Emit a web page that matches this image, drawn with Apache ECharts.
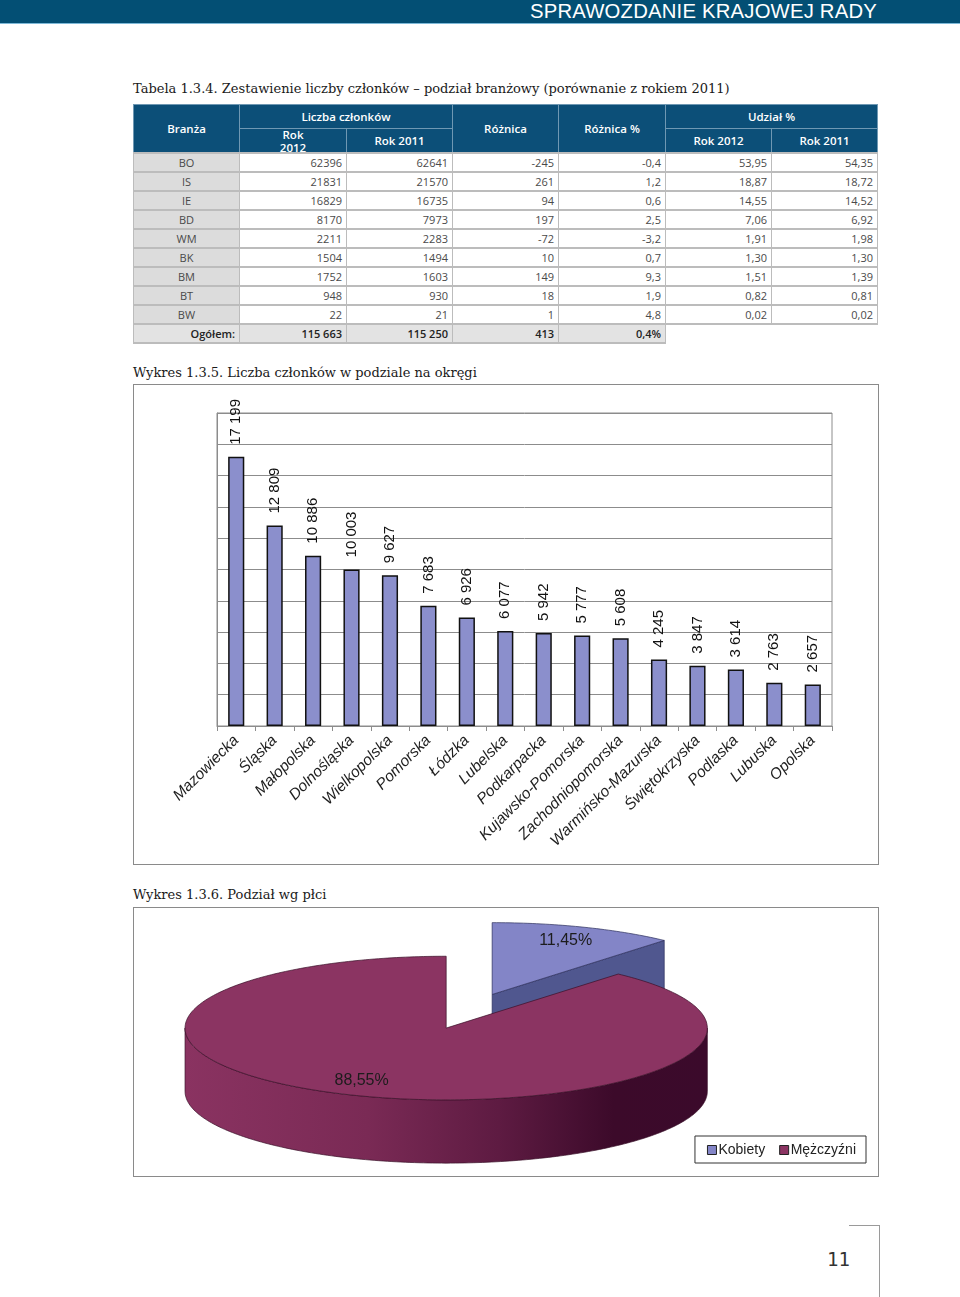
<!DOCTYPE html>
<html>
<head>
<meta charset="utf-8">
<script src="https://cdn.jsdelivr.net/npm/echarts@6/dist/echarts.min.js"></script>
<style>
  html, body { margin: 0; padding: 0; background: #fff; }
  body { width: 960px; height: 1297px; position: relative; overflow: hidden; }
  .abs { position: absolute; }
  #hdr { left: 0; top: 0; width: 960px; height: 23px; background: #034f74; border-bottom: 1px solid #7db9d8; }
  #hdrText { right: 83px; top: 0px; font: 20.3px "Liberation Sans", Arial, sans-serif; color: #fff; line-height: 22px; letter-spacing: 0.2px; }
  .cap { font-family: "DejaVu Serif", serif; font-size: 13px; color: #1a1a1a; line-height: 16px; white-space: nowrap; }
  #tbl { left: 133px; top: 104px; border-collapse: collapse; table-layout: fixed; font-family: "Open Sans", "Noto Sans", sans-serif; }
  #tbl th { background: #0c4f78; color: #fff; font-weight: 600; font-size: 11.5px; border: 1px solid #6f98b3; padding: 0; height: 23px; text-align: center; vertical-align: middle; overflow: visible; }
  #tbl td { border: 1px solid #bcbcbc; border-width: 2px 1px; font-size: 11px; color: #4a4a4a; padding: 0 4px 0 0; height: 17px; line-height: 17px; text-align: right; background: #fff; }
  #tbl td.k { background: #dcdcdc; text-align: center; padding: 0; }
  #tbl tr.tot td { background: #e3e3e3; font-weight: 600; color: #222; }
  #tbl tr.tot td.k { text-align: right; padding-right: 4px; }
  #tbl tr.tot td.none { background: #fff; border: none; }
  .box { border: 1px solid #8a8a8a; box-sizing: border-box; }
  #bar { left: 133px; top: 384px; width: 746px; height: 481px; }
  #pie { left: 133px; top: 907px; width: 746px; height: 270px; }
  #pg { left: 827px; top: 1248px; font: 19px "DejaVu Sans Mono", monospace; color: #333; }
  #vline { left: 879px; top: 1225px; width: 1px; height: 72px; background: #9a9a9a; }
  #hline { left: 849px; top: 1225px; width: 31px; height: 1px; background: #9a9a9a; }
</style>
</head>
<body>
<div id="hdr" class="abs"></div>
<div id="hdrText" class="abs">SPRAWOZDANIE KRAJOWEJ RADY</div>

<div class="abs cap" style="left:133px; top:81px;">Tabela 1.3.4. Zestawienie liczby członków – podział branżowy (porównanie z rokiem 2011)</div>
<table id="tbl" class="abs"></table>

<div class="abs cap" style="left:133px; top:365px;">Wykres 1.3.5. Liczba członków w podziale na okręgi</div>
<div id="bar" class="abs box"></div>

<div class="abs cap" style="left:133px; top:887px;">Wykres 1.3.6. Podział wg płci</div>
<div id="pie" class="abs box"></div>

<div id="pg" class="abs">11</div>
<div id="vline" class="abs"></div>
<div id="hline" class="abs"></div>

<script>
// ---------- Table data ----------
const branze      = ['BO','IS','IE','BD','WM','BK','BM','BT','BW'];
const rok2012     = [62396, 21831, 16829, 8170, 2211, 1504, 1752, 948, 22];
const rok2011     = [62641, 21570, 16735, 7973, 2283, 1494, 1603, 930, 21];
const roznica     = [-245, 261, 94, 197, -72, 10, 149, 18, 1];
const roznicaPct  = [-0.4, 1.2, 0.6, 2.5, -3.2, 0.7, 9.3, 1.9, 4.8];
const udzial2012  = [53.95, 18.87, 14.55, 7.06, 1.91, 1.30, 1.51, 0.82, 0.02];
const udzial2011  = [54.35, 18.72, 14.52, 6.92, 1.98, 1.30, 1.39, 0.81, 0.02];
const totalLabel  = 'Ogółem:';
const total2012   = 115663;
const total2011   = 115250;
const totalRoz    = 413;
const totalRozPct = 0.4;

// ---------- Bar chart data ----------
const okregi = ['Mazowiecka','Śląska','Małopolska','Dolnośląska','Wielkopolska','Pomorska','Łódzka','Lubelska','Podkarpacka','Kujawsko-Pomorska','Zachodniopomorska','Warmińsko-Mazurska','Świętokrzyska','Podlaska','Lubuska','Opolska'];
const czlonkowie = [17199, 12809, 10886, 10003, 9627, 7683, 6926, 6077, 5942, 5777, 5608, 4245, 3847, 3614, 2763, 2657];

// ---------- Pie data ----------
const plecNames  = ['Kobiety', 'Mężczyźni'];
const plecValues = [11.45, 88.55];

// ---------- Build table ----------
function fmtDec(v, d) { return v.toFixed(d).replace('.', ','); }
function fmtThousands(v) { return String(v).replace(/\B(?=(\d{3})+(?!\d))/g, ' '); }
(function buildTable() {
  const t = document.getElementById('tbl');
  const widths = [106, 107, 106, 106, 107, 106, 106];
  let html = '<colgroup>' + widths.map(w => '<col style="width:' + w + 'px">').join('') + '</colgroup>';
  html += '<tr><th rowspan="2">Branża</th><th colspan="2">Liczba członków</th><th rowspan="2">Różnica</th><th rowspan="2">Różnica %</th><th colspan="2">Udział %</th></tr>';
  html += '<tr><th><div style="height:23px;line-height:13px;margin-top:-3px;">Rok<br>2012</div></th><th>Rok 2011</th><th>Rok 2012</th><th>Rok 2011</th></tr>';
  for (let i = 0; i < branze.length; i++) {
    html += '<tr><td class="k">' + branze[i] + '</td><td>' + rok2012[i] + '</td><td>' + rok2011[i] + '</td><td>' + roznica[i] +
      '</td><td>' + fmtDec(roznicaPct[i], 1) + '</td><td>' + fmtDec(udzial2012[i], 2) + '</td><td>' + fmtDec(udzial2011[i], 2) + '</td></tr>';
  }
  html += '<tr class="tot"><td class="k">' + totalLabel + '</td><td>' + fmtThousands(total2012) + '</td><td>' + fmtThousands(total2011) +
    '</td><td>' + totalRoz + '</td><td>' + fmtDec(totalRozPct, 1) + '%</td><td class="none"></td><td class="none"></td></tr>';
  t.innerHTML = html;
})();

// ---------- Bar chart ----------
const barChart = echarts.init(document.getElementById('bar'), null, { renderer: 'canvas' });
barChart.setOption({
  animation: false,
  grid: { left: 83, right: 46, top: 28, bottom: 138, show: true, borderColor: '#8c8c8c', borderWidth: 1, backgroundColor: 'transparent' },
  xAxis: {
    type: 'category',
    data: okregi,
    axisLine: { lineStyle: { color: '#8c8c8c', width: 1 } },
    axisTick: { show: true, length: 5, lineStyle: { color: '#8c8c8c' } },
    axisLabel: { interval: 0, rotate: 45, margin: 12, fontStyle: 'italic', fontSize: 15.5, fontFamily: '"Liberation Sans", Arial, sans-serif', color: '#1e1e1e' }
  },
  yAxis: {
    type: 'value', min: 0, max: 20000, interval: 2000,
    axisLabel: { show: false },
    axisTick: { show: false },
    axisLine: { show: true, lineStyle: { color: '#8c8c8c' } },
    splitLine: { lineStyle: { color: '#8c8c8c', width: 1 } }
  },
  series: [{
    type: 'bar',
    data: czlonkowie,
    barWidth: '42%',
    itemStyle: { color: '#8b8fcc', borderColor: '#111', borderWidth: 1.5 },
    label: {
      show: true, position: 'top', rotate: 90, distance: 12, align: 'left', verticalAlign: 'middle',
      fontSize: 15, fontFamily: '"Liberation Sans", Arial, sans-serif', color: '#111',
      formatter: p => fmtThousands(p.value)
    }
  }]
});

// ---------- 3D pie chart (custom series) ----------
const explodeFactor = [0.5, 0];
const pieTopColors  = ['#8385c7', '#8b3462'];
function pieRenderer(sliceIdx) {
  return function (params, api) {
    const W = api.getWidth(), H = api.getHeight();
    const cx0 = W * 0.4196, cy0 = H * 0.448;
    const a = W * 0.351, b = a * 0.275, depth = H * 0.236;
    const total = plecValues.reduce((s, v) => s + v, 0);
    let start = 0;
    for (let i = 0; i < sliceIdx; i++) start += plecValues[i];
    const val = api.value(0);
    const t0 = start / total * 360, t1 = (start + val) / total * 360;
    const rad = d => d * Math.PI / 180;
    const mid = (t0 + t1) / 2;
    const ex = explodeFactor[sliceIdx];
    const cx = cx0 + a * ex * Math.sin(rad(mid));
    const cy = cy0 - b * ex * Math.cos(rad(mid));
    const P = (t, dz) => [cx + a * Math.sin(rad(t)), cy - b * Math.cos(rad(t)) + (dz || 0)];
    const arc = (s, e, dz) => { const pts = []; const n = Math.max(2, Math.ceil(Math.abs(e - s))); for (let k = 0; k <= n; k++) pts.push(P(s + (e - s) * k / n, dz)); return pts; };
    const children = [];
    const isWomen = sliceIdx === 0;
    const stroke = isWomen ? '#2c2f5c' : '#3a1028';
    const sideColor = isWomen ? '#50578f' : '#5a1d40';
    if (Math.sin(rad(t1)) > 1e-6) {
      children.push({ type: 'polygon', shape: { points: [[cx, cy], P(t1), P(t1, depth), [cx, cy + depth]] }, style: { fill: sideColor, stroke: stroke, lineWidth: 0.7 } });
    }
    if (Math.sin(rad(t0)) < -1e-6) {
      children.push({ type: 'polygon', shape: { points: [[cx, cy], P(t0), P(t0, depth), [cx, cy + depth]] }, style: { fill: sideColor, stroke: stroke, lineWidth: 0.7 } });
    }
    const s = Math.max(t0, 90), e = Math.min(t1, 270);
    if (e > s) {
      const pts = arc(s, e, 0).concat(arc(e, s, depth));
      const fill = isWomen ? sideColor : new echarts.graphic.LinearGradient(0, 0, 1, 0, [
        { offset: 0, color: '#8a3361' }, { offset: 0.35, color: '#7a2a55' }, { offset: 0.6, color: '#5e1b42' },
        { offset: 0.82, color: '#3c0a2a' }, { offset: 1, color: '#3b0a2b' }
      ]);
      children.push({ type: 'polygon', shape: { points: pts }, style: { fill: fill, stroke: stroke, lineWidth: 0.7 } });
    }
    const top = [[cx, cy]].concat(arc(t0, t1, 0));
    children.push({ type: 'polygon', shape: { points: top }, style: { fill: pieTopColors[sliceIdx], stroke: stroke, lineWidth: 0.7 } });
    const lrx = isWomen ? 0.8 : 0.92, lry = isWomen ? 0.8 : 0.78;
    children.push({ type: 'text', x: cx + a * lrx * Math.sin(rad(mid)), y: cy - b * lry * Math.cos(rad(mid)),
      style: { text: fmtDec(val, 2) + '%', fontSize: 16, fontFamily: '"Liberation Sans", Arial, sans-serif', fill: '#1c1c1c', align: 'center', verticalAlign: 'middle' } });
    return { type: 'group', children: children };
  };
}
const pieChart = echarts.init(document.getElementById('pie'), null, { renderer: 'canvas' });
pieChart.setOption({
  animation: false,
  legend: {
    data: plecNames, right: 12, bottom: 13, orient: 'horizontal',
    borderColor: '#333', borderWidth: 1, padding: [7, 10, 6, 12], itemGap: 14,
    itemWidth: 9, itemHeight: 9, icon: 'rect', selectedMode: false,
    itemStyle: { borderColor: '#222', borderWidth: 1 },
    textStyle: { fontSize: 14, fontFamily: '"Liberation Sans", Arial, sans-serif', color: '#222', padding: [0, 0, 0, -3] }
  },
  series: plecNames.map((n, i) => ({
    type: 'custom', name: n, coordinateSystem: 'none',
    data: [[plecValues[i]]],
    itemStyle: { color: pieTopColors[i] },
    renderItem: pieRenderer(i),
    silent: true
  }))
});
</script>
</body>
</html>
